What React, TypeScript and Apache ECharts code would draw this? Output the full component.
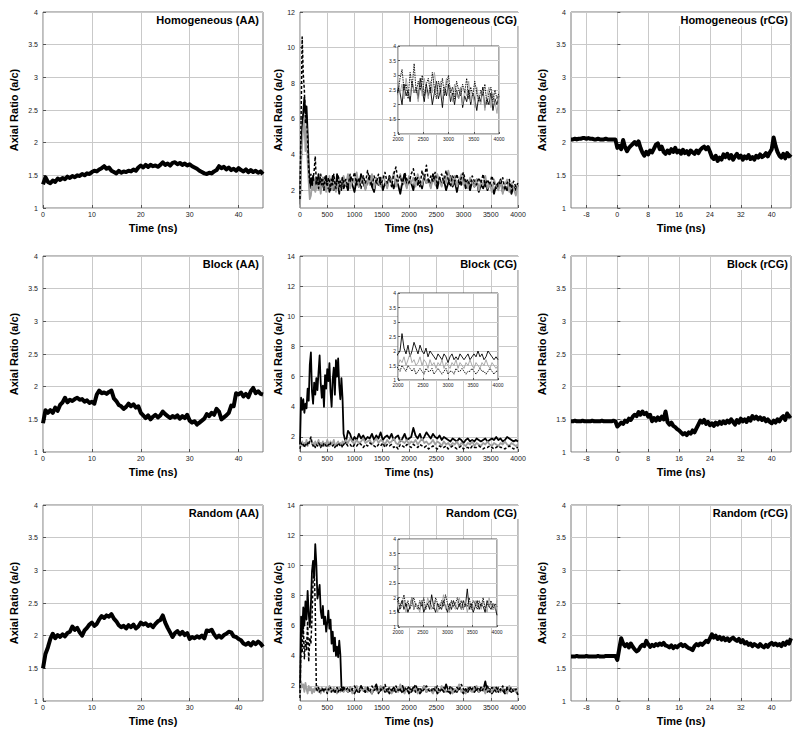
import { useEffect, useRef } from "react";
import * as echarts from "echarts";

// ---------- sampling ----------
const AA_START = 0;
const AA_STEP = 0.5;
const RCG_START = -12;
const RCG_STEP = 0.5;
const CG_EARLY_STEP = 20;
const CG_EARLY_END = 800;
const CG_LATE_STEP = 40;

// ---------- tick labels ----------
const aaXTicks = [0, 10, 20, 30, 40];
const rcgXTicks = [-8, 0, 8, 16, 24, 32, 40];
const ratioTicks = [1, 1.5, 2, 2.5, 3, 3.5, 4];
const cgXTicks = [0, 500, 1000, 1500, 2000, 2500, 3000, 3500, 4000];
const cgYTicks12 = [2, 4, 6, 8, 10, 12];
const cgYTicks14 = [2, 4, 6, 8, 10, 12, 14];
const insetXTicks = [2000, 2500, 3000, 3500, 4000];
const insetYTicks = [1, 1.5, 2, 2.5, 3, 3.5, 4];

// ---------- titles ----------
const titles = [
  "Homogeneous (AA)", "Homogeneous (CG)", "Homogeneous (rCG)",
  "Block (AA)", "Block (CG)", "Block (rCG)",
  "Random (AA)", "Random (CG)", "Random (rCG)",
];

// ---------- AA series (0..45 ns, 0.5 ns step) ----------
const homAA = [1.36, 1.47, 1.40, 1.38, 1.42, 1.40, 1.45, 1.43, 1.46, 1.44, 1.48, 1.46, 1.49, 1.47, 1.50, 1.49, 1.52, 1.50, 1.53, 1.52,
  1.55, 1.57, 1.56, 1.59, 1.61, 1.64, 1.60, 1.62, 1.57, 1.55, 1.53, 1.57, 1.54, 1.56, 1.55, 1.57, 1.56, 1.59, 1.57, 1.62,
  1.65, 1.62, 1.66, 1.63, 1.66, 1.64, 1.65, 1.63, 1.66, 1.70, 1.66, 1.68, 1.65, 1.69, 1.70, 1.67, 1.69, 1.66, 1.68, 1.65,
  1.67, 1.64, 1.62, 1.60, 1.57, 1.55, 1.53, 1.52, 1.54, 1.53, 1.56, 1.58, 1.64, 1.61, 1.63, 1.59, 1.62, 1.58, 1.60, 1.57,
  1.61, 1.58, 1.56, 1.59, 1.55, 1.58, 1.55, 1.57, 1.54, 1.56, 1.52];
const blockAA = [1.44, 1.64, 1.60, 1.64, 1.60, 1.68, 1.63, 1.72, 1.76, 1.83, 1.76, 1.80, 1.78, 1.81, 1.83, 1.80, 1.81, 1.77, 1.79, 1.75,
  1.77, 1.74, 1.88, 1.94, 1.90, 1.91, 1.89, 1.92, 1.94, 1.82, 1.78, 1.72, 1.70, 1.66, 1.69, 1.74, 1.70, 1.73, 1.68, 1.70,
  1.60, 1.56, 1.52, 1.56, 1.50, 1.54, 1.57, 1.53, 1.56, 1.62, 1.58, 1.55, 1.52, 1.55, 1.53, 1.56, 1.51, 1.55, 1.52, 1.57,
  1.48, 1.45, 1.47, 1.42, 1.45, 1.48, 1.51, 1.58, 1.55, 1.60, 1.57, 1.66, 1.62, 1.50, 1.53, 1.56, 1.60, 1.71, 1.70, 1.90,
  1.88, 1.91, 1.85, 1.89, 1.84, 1.93, 1.98, 1.90, 1.93, 1.89, 1.88];
const randAA = [1.50, 1.72, 1.82, 1.95, 2.03, 1.96, 2.01, 1.98, 2.02, 1.99, 2.04, 2.06, 2.14, 2.09, 2.12, 2.05, 2.00, 2.08, 2.12, 2.17,
  2.20, 2.15, 2.18, 2.25, 2.30, 2.27, 2.31, 2.29, 2.33, 2.26, 2.22, 2.16, 2.13, 2.15, 2.11, 2.16, 2.13, 2.17, 2.11, 2.14,
  2.20, 2.17, 2.19, 2.15, 2.17, 2.13, 2.18, 2.22, 2.24, 2.31, 2.20, 2.12, 2.05, 1.98, 2.04, 2.07, 2.02, 2.06, 2.01, 2.04,
  1.95, 1.98, 1.96, 1.99, 1.97, 2.00, 1.96, 2.08, 2.07, 2.09, 2.02, 1.97, 2.00, 1.97, 2.01, 2.03, 2.06, 2.05, 1.99, 1.98,
  1.95, 1.93, 1.88, 1.86, 1.89, 1.85, 1.90, 1.87, 1.91, 1.88, 1.83];

// ---------- rCG series (-12..45 ns, 0.5 ns step: pre = -12..-0.5, post = 0..45) ----------
const homRcgPre = [2.05, 2.05, 2.06, 2.05, 2.06, 2.06, 2.07, 2.07, 2.06, 2.07, 2.06, 2.06, 2.05, 2.05, 2.06, 2.05, 2.05, 2.05, 2.06, 2.05, 2.05, 2.05, 2.05, 2.05];
const homRcgPost = [1.92, 1.95, 1.90, 2.04, 1.93, 1.87, 1.92, 1.95, 1.98, 2.01, 1.97, 2.02, 1.92, 1.85, 1.80, 1.86, 1.82, 1.88, 1.85, 1.91,
  1.97, 1.99, 1.90, 1.94, 1.86, 1.83, 1.88, 1.84, 1.90, 1.86, 1.92, 1.85, 1.88, 1.83, 1.89, 1.84, 1.87, 1.82, 1.88, 1.85,
  1.83, 1.88, 1.84, 1.89, 1.92, 1.94, 1.90, 1.93, 1.86, 1.78, 1.75, 1.80, 1.72, 1.77, 1.74, 1.82, 1.78, 1.83, 1.76, 1.81,
  1.74, 1.79, 1.83, 1.77, 1.80, 1.74, 1.79, 1.76, 1.81, 1.75, 1.78, 1.74, 1.80, 1.77, 1.82, 1.78, 1.80, 1.84, 1.79, 1.85,
  1.90, 2.08, 1.95, 1.86, 1.80, 1.77, 1.83, 1.76, 1.84, 1.79, 1.82];
const blockRcgPre = [1.47, 1.47, 1.48, 1.47, 1.47, 1.47, 1.48, 1.47, 1.47, 1.47, 1.47, 1.48, 1.47, 1.47, 1.47, 1.47, 1.48, 1.47, 1.47, 1.47, 1.47, 1.47, 1.48, 1.47];
const blockRcgPost = [1.39, 1.42, 1.45, 1.43, 1.48, 1.46, 1.51, 1.49, 1.54, 1.57, 1.55, 1.61, 1.57, 1.62, 1.58, 1.60, 1.54, 1.57, 1.47, 1.52,
  1.48, 1.53, 1.49, 1.54, 1.50, 1.62, 1.46, 1.42, 1.45, 1.40, 1.38, 1.35, 1.33, 1.30, 1.27, 1.29, 1.26, 1.30, 1.28, 1.33,
  1.30, 1.36, 1.42, 1.48, 1.45, 1.49, 1.43, 1.46, 1.41, 1.44, 1.40, 1.45, 1.42, 1.46, 1.43, 1.47, 1.44, 1.48, 1.45, 1.50,
  1.46, 1.42, 1.49, 1.45, 1.51, 1.47, 1.50, 1.46, 1.52, 1.48, 1.55, 1.51, 1.54, 1.50, 1.53, 1.49, 1.52, 1.47, 1.50, 1.46,
  1.44, 1.48, 1.45, 1.50, 1.47, 1.52, 1.55, 1.49, 1.59, 1.54, 1.56];
const randRcgPre = [1.68, 1.68, 1.68, 1.69, 1.68, 1.68, 1.68, 1.68, 1.69, 1.68, 1.68, 1.68, 1.68, 1.68, 1.69, 1.68, 1.68, 1.68, 1.69, 1.69, 1.69, 1.69, 1.69, 1.69];
const randRcgPost = [1.63, 1.80, 1.96, 1.88, 1.84, 1.87, 1.82, 1.88, 1.83, 1.79, 1.76, 1.78, 1.83, 1.86, 1.84, 1.92, 1.87, 1.83, 1.86, 1.84,
  1.87, 1.85, 1.88, 1.86, 1.89, 1.85, 1.84, 1.82, 1.85, 1.81, 1.84, 1.82, 1.85, 1.87, 1.84, 1.86, 1.83, 1.81, 1.80, 1.78,
  1.84, 1.87, 1.85, 1.88, 1.86, 1.89, 1.92, 1.90, 1.96, 2.02, 1.97, 2.00, 1.95, 1.98, 1.94, 1.97, 1.93, 1.96, 1.92, 1.95,
  1.97, 1.94, 1.92, 1.95, 1.90, 1.93, 1.88, 1.90, 1.86, 1.88, 1.84, 1.87, 1.85, 1.83, 1.87, 1.84, 1.82, 1.86, 1.83, 1.87,
  1.89, 1.86, 1.88, 1.85, 1.87, 1.84, 1.89, 1.86, 1.91, 1.88, 1.96];

// ---------- CG series (early: 0..800 step 20, late: 840..4000 step 40) ----------
const homCgSolidEarly = [1.2, 4.3, 5.5, 6.4, 7.2, 6.3, 6.7, 5.2, 3.4, 2.1, 2.6, 2.2, 2.8, 2.4, 2.0, 2.6, 2.3, 2.9, 2.1, 2.5,
  2.2, 2.7, 2.0, 2.4, 2.8, 2.1, 2.5, 1.9, 2.6, 2.3, 2.8, 2.0, 2.4, 2.2, 2.9, 2.3, 1.8, 2.5, 2.2, 2.7, 2.1];
const homCgSolidLate = [2.4, 2.0, 2.7, 2.3, 1.9, 2.6, 2.2, 2.9, 2.4, 2.1, 2.5, 2.8, 2.2, 1.9, 2.6, 2.3, 2.7, 2.0, 2.4, 2.2,
  2.8, 2.5, 2.1, 2.6, 2.3, 1.8, 2.5, 2.9, 2.2, 2.6, 2.4, 2.0, 2.7, 2.3, 2.5, 2.1, 2.8, 2.4, 2.6, 2.2,
  2.9, 2.5, 2.1, 2.7, 2.3, 2.6, 2.0, 2.4, 2.8, 2.2, 2.5, 1.9, 2.6, 2.3, 2.7, 2.1, 2.4, 2.0, 2.5, 2.2,
  2.6, 1.9, 2.3, 2.1, 2.5, 2.0, 2.4, 2.2, 1.8, 2.3, 2.1, 2.6, 1.9, 2.2, 2.0, 2.4, 1.8, 2.2, 2.0, 2.3];
const homCgDashEarly = [1.5, 6.0, 10.6, 8.5, 7.6, 5.8, 6.2, 4.8, 3.1, 2.4, 2.9, 2.2, 2.6, 3.1, 3.9, 2.3, 2.7, 2.1, 2.5, 2.9,
  2.3, 2.6, 2.1, 2.8, 2.4, 2.2, 2.7, 2.5, 2.0, 2.6, 2.3, 2.9, 2.4, 2.1, 2.6, 2.8, 2.2, 2.5, 2.0, 2.7, 2.4];
const homCgDashLate = [2.6, 2.2, 2.9, 2.5, 3.0, 2.3, 2.7, 2.1, 2.8, 2.4, 3.1, 2.5, 2.2, 2.8, 2.4, 2.9, 2.3, 2.6, 3.0, 2.4,
  2.7, 2.2, 2.9, 3.3, 2.5, 2.8, 2.3, 3.0, 2.6, 2.4, 2.9, 3.2, 2.5, 2.7, 2.2, 3.1, 2.6, 3.4, 2.4, 2.8,
  2.5, 3.0, 2.3, 2.7, 2.9, 2.4, 3.1, 2.6, 2.2, 2.8, 2.5, 2.9, 2.3, 2.7, 3.0, 2.4, 2.6, 2.2, 2.8, 2.5,
  2.3, 2.7, 2.4, 2.9, 2.2, 2.6, 2.3, 2.8, 2.4, 2.1, 2.5, 2.3, 2.7, 2.0, 2.4, 2.6, 2.1, 2.5, 2.2, 2.4];
const homCgGrayEarly = [1.0, 3.5, 4.6, 5.5, 6.0, 4.2, 5.6, 3.6, 2.4, 1.5, 1.7, 2.3, 2.0, 2.5, 1.9, 2.2, 2.6, 2.0, 2.4, 1.8,
  2.3, 2.7, 2.1, 2.5, 1.9, 2.4, 2.2, 2.8, 2.1, 2.5, 2.0, 2.6, 2.3, 1.9, 2.4, 2.2, 2.7, 2.0, 2.5, 2.3, 2.8];
const homCgGrayLate = [2.3, 2.9, 2.1, 2.6, 2.4, 3.0, 2.2, 2.5, 2.8, 2.0, 2.6, 2.3, 2.9, 2.1, 2.7, 2.4, 2.2, 2.8, 2.5, 2.1,
  2.7, 2.4, 3.0, 2.2, 2.6, 2.9, 2.3, 2.5, 2.1, 2.8, 2.4, 2.7, 2.2, 2.9, 2.5, 2.3, 2.8, 2.4, 2.6, 2.1,
  2.7, 2.3, 2.9, 2.5, 2.2, 2.8, 2.4, 3.1, 2.6, 2.3, 2.8, 2.2, 2.5, 2.9, 2.3, 2.6, 2.1, 2.7, 2.4, 2.2,
  2.6, 2.0, 2.5, 2.3, 2.8, 2.1, 2.4, 1.9, 2.6, 2.2, 2.0, 2.5, 1.8, 2.3, 2.6, 1.9, 2.4, 2.1, 1.7, 2.3];

const blockCgSolidEarly = [1.5, 4.6, 3.8, 4.5, 3.6, 4.2, 3.9, 5.2, 4.4, 6.8, 7.6, 5.0, 4.2, 5.6, 4.8, 5.9, 5.1, 6.3, 7.4, 5.6,
  4.6, 5.4, 4.0, 6.1, 5.2, 6.5, 5.7, 6.9, 5.0, 4.0, 5.8, 6.6, 4.8, 7.1, 6.0, 7.2, 5.4, 4.5, 5.9, 4.6, 2.2];
const blockCgSolidLate = [1.6, 2.4, 2.2, 1.7, 2.0, 1.8, 2.2, 1.9, 2.1, 1.8, 2.0, 1.9, 2.2, 1.8, 2.1, 1.9, 2.3, 1.8, 2.0, 2.1,
  1.9, 2.2, 1.8, 2.0, 2.1, 1.7, 1.9, 2.2, 1.8, 1.9, 2.0, 2.6, 2.1, 1.9, 2.2, 1.8, 2.0, 2.3, 2.1, 1.9,
  2.2, 2.0, 1.9, 2.1, 1.8, 2.0, 1.9, 1.8, 1.7, 1.9, 1.8, 1.7, 1.9, 1.8, 1.6, 1.8, 1.9, 1.7, 1.8, 1.7,
  1.9, 1.8, 1.7, 1.8, 1.9, 1.7, 1.8, 1.9, 1.8, 2.0, 1.8, 1.9, 1.7, 1.8, 2.0, 1.9, 1.8, 1.7, 1.8, 1.7];
const blockCgDashEarly = [1.2, 1.6, 1.4, 1.5, 1.3, 1.5, 1.4, 1.6, 1.5, 1.8, 2.0, 1.6, 1.4, 1.5, 1.3, 1.5, 1.4, 1.6, 1.5, 1.3,
  1.5, 1.4, 1.6, 1.5, 1.4, 1.3, 1.5, 1.4, 1.6, 1.5, 1.4, 1.5, 1.3, 1.5, 1.4, 1.6, 1.5, 1.4, 1.5, 1.3, 1.5];
const blockCgDashLate = [1.6, 1.4, 1.5, 1.3, 1.5, 1.4, 1.6, 1.5, 1.3, 1.5, 1.4, 1.6, 1.5, 1.4, 1.3, 1.5, 1.4, 1.6, 1.3, 1.5,
  1.4, 1.5, 1.3, 1.4, 1.2, 1.5, 1.4, 1.3, 1.5, 1.4, 1.3, 1.5, 1.4, 1.3, 1.5, 1.4, 1.3, 1.4, 1.2, 1.3,
  1.4, 1.3, 1.2, 1.4, 1.3, 1.3, 1.4, 1.2, 1.3, 1.4, 1.3, 1.2, 1.3, 1.4, 1.2, 1.3, 1.3, 1.2, 1.4, 1.3,
  1.3, 1.4, 1.3, 1.2, 1.3, 1.3, 1.4, 1.3, 1.2, 1.3, 1.4, 1.3, 1.3, 1.2, 1.3, 1.4, 1.3, 1.2, 1.3, 1.3];
const blockCgGrayEarly = [1.3, 1.5, 1.7, 1.4, 1.6, 1.5, 1.8, 1.4, 1.6, 1.7, 1.9, 1.5, 1.6, 1.4, 1.7, 1.5, 1.6, 1.8, 1.4, 1.6,
  1.5, 1.7, 1.4, 1.6, 1.5, 1.8, 1.6, 1.4, 1.7, 1.5, 1.6, 1.8, 1.5, 1.4, 1.6, 1.7, 1.5, 1.6, 1.4, 1.7, 1.6];
const blockCgGrayLate = [1.8, 1.6, 1.9, 1.7, 1.5, 1.8, 1.6, 1.7, 1.9, 1.6, 1.7, 1.8, 1.5, 1.7, 1.9, 1.6, 1.8, 1.7, 1.5, 1.8,
  1.6, 1.7, 1.9, 1.6, 1.5, 1.8, 1.7, 1.6, 1.8, 1.5, 1.7, 1.6, 1.8, 1.5, 1.7, 1.9, 1.6, 1.7, 1.5, 1.6,
  1.8, 1.5, 1.7, 1.6, 1.4, 1.7, 1.5, 1.6, 1.4, 1.6, 1.5, 1.7, 1.4, 1.6, 1.5, 1.4, 1.6, 1.5, 1.7, 1.4,
  1.6, 1.5, 1.4, 1.6, 1.5, 1.7, 1.5, 1.4, 1.6, 1.5, 1.4, 1.6, 1.5, 1.7, 1.5, 1.4, 1.6, 1.5, 1.4, 1.5];

const randCgSolidEarly = [1.5, 6.6, 5.5, 7.2, 6.0, 7.6, 6.4, 8.3, 6.8, 5.9, 7.4, 9.6, 10.3, 9.2, 11.4, 10.1, 7.8, 8.2, 8.7, 7.0,
  6.5, 7.3, 6.1, 6.6, 5.6, 6.2, 7.0, 5.8, 6.4, 4.8, 5.6, 4.3, 5.2, 4.0, 4.6, 3.9, 5.0, 4.1, 2.0, 1.7, 1.9];
const randCgSolidLate = [1.8, 1.6, 1.9, 1.7, 1.5, 1.8, 1.6, 2.0, 1.7, 1.6, 1.9, 1.7, 1.5, 1.8, 2.1, 1.6, 1.7, 1.9, 1.6, 1.8,
  1.5, 1.7, 1.9, 1.6, 1.8, 1.7, 2.0, 1.6, 1.8, 1.5, 1.7, 1.9, 1.6, 1.8, 1.5, 1.7, 2.0, 1.6, 1.8, 1.7,
  1.6, 1.9, 1.5, 1.7, 1.8, 1.6, 2.1, 1.7, 1.5, 1.8, 1.7, 1.6, 1.9, 1.7, 1.5, 1.8, 1.6, 1.9, 1.7, 1.6,
  1.8, 1.6, 1.9, 1.7, 2.3, 1.6, 1.8, 1.5, 1.7, 1.9, 1.6, 1.8, 1.7, 1.5, 1.9, 1.7, 1.6, 1.8, 1.7, 1.4];
const randCgDashEarly = [1.2, 5.5, 4.2, 6.1, 3.8, 5.0, 4.4, 6.3, 3.6, 5.2, 4.8, 6.5, 9.0, 9.8, 7.2, 1.8, 1.7, 1.9, 1.6, 1.8,
  1.7, 1.9, 1.6, 1.8, 1.7, 1.5, 1.8, 1.7, 1.9, 1.6, 1.8, 1.7, 1.5, 1.8, 1.9, 1.6, 1.8, 1.7, 1.9, 1.6, 1.8];
const randCgDashLate = [1.7, 1.9, 1.6, 1.8, 2.0, 1.7, 1.5, 1.9, 1.8, 1.6, 1.8, 1.6, 2.0, 1.7, 1.9, 1.5, 1.8, 1.7, 2.1, 1.6,
  1.9, 1.7, 1.6, 2.0, 1.7, 1.8, 1.5, 1.9, 1.7, 2.0, 1.6, 1.8, 2.1, 1.7, 1.9, 1.6, 1.8, 2.0, 1.7, 1.6,
  1.9, 1.7, 2.0, 1.6, 1.8, 1.9, 1.7, 1.6, 2.0, 1.8, 1.6, 1.9, 1.7, 2.1, 1.8, 1.6, 1.9, 1.7, 1.8, 2.0,
  1.7, 1.9, 1.6, 1.8, 1.7, 2.0, 1.6, 1.9, 1.8, 1.6, 1.9, 1.7, 2.0, 1.6, 1.8, 1.7, 1.9, 1.6, 1.8, 1.7];
const randCgGrayEarly = [1.4, 2.3, 1.9, 2.1, 1.6, 2.2, 1.8, 1.5, 2.0, 1.7, 1.9, 1.5, 1.8, 1.6, 1.9, 1.7, 2.0, 1.6, 1.8, 1.5,
  1.9, 1.7, 1.6, 1.8, 1.9, 1.6, 1.7, 2.0, 1.6, 1.8, 1.7, 1.9, 1.6, 1.8, 1.5, 1.7, 1.9, 1.6, 1.8, 1.7, 1.6];
const randCgGrayLate = [1.8, 1.6, 1.9, 1.5, 1.7, 2.0, 1.6, 1.8, 1.7, 1.9, 1.6, 1.8, 1.5, 1.9, 1.7, 1.6, 2.0, 1.7, 1.8, 1.6,
  1.9, 1.5, 1.7, 1.8, 1.6, 2.1, 1.7, 1.5, 1.8, 1.9, 1.6, 1.7, 1.9, 1.5, 1.8, 1.7, 2.0, 1.6, 1.8, 1.7,
  1.5, 1.9, 1.7, 1.6, 2.0, 1.8, 1.6, 1.7, 1.9, 1.5, 1.8, 1.7, 2.1, 1.6, 1.8, 1.5, 1.9, 1.7, 1.6, 1.8,
  2.0, 1.6, 1.7, 1.9, 1.5, 1.8, 1.7, 1.6, 1.9, 1.7, 1.8, 1.6, 1.9, 1.7, 1.5, 2.0, 1.7, 1.8, 1.6, 1.9];

// ---------- helpers ----------
const FONT = "'Liberation Sans', Arial, Helvetica, sans-serif";
const BLACK = "#000000";
const GRAY = "#a0a0a0";

const toPairs = (start: number, step: number, vals: number[]) => vals.map((v, i) => [start + i * step, v]);
const rcgPairs = (pre: number[], post: number[]) => toPairs(RCG_START, RCG_STEP, pre.concat(post));
const cgPairs = (early: number[], late: number[]) =>
  early.map((v, i) => [i * CG_EARLY_STEP, v]).concat(late.map((v, i) => [CG_EARLY_END + (i + 1) * CG_LATE_STEP, v]));

type Line = { data: number[][]; color: string; width: number; dash?: number[] };
type Panel = {
  left: number; top: number; width: number; height: number;
  xMin: number; xMax: number; xTicks: number[];
  yMin: number; yMax: number; yTicks: number[];
  yNameGap: number; title: string; titleRight: number;
  lines: Line[];
  inset?: { left: number; top: number; width: number; height: number };
};

const COL_LEFT = [43, 300, 571];
const COL_WIDTH = [220, 218, 220];
const ROW_TOP = [12, 256, 505];
const ROW_H = 196;
const TITLE_RIGHT = [539, 281, 10];
const INSETS = [
  { left: 398, top: 46, width: 101, height: 88 },
  { left: 398, top: 293, width: 100, height: 87 },
  { left: 398, top: 539, width: 99, height: 88 },
];

function buildPanels(): Panel[] {
  const aa = [homAA, blockAA, randAA];
  const rcg = [[homRcgPre, homRcgPost], [blockRcgPre, blockRcgPost], [randRcgPre, randRcgPost]];
  const cg = [
    [[homCgSolidEarly, homCgSolidLate], [homCgGrayEarly, homCgGrayLate], [homCgDashEarly, homCgDashLate]],
    [[blockCgSolidEarly, blockCgSolidLate], [blockCgGrayEarly, blockCgGrayLate], [blockCgDashEarly, blockCgDashLate]],
    [[randCgSolidEarly, randCgSolidLate], [randCgGrayEarly, randCgGrayLate], [randCgDashEarly, randCgDashLate]],
  ];
  const panels: Panel[] = [];
  for (let r = 0; r < 3; r++) {
    const base = { top: ROW_TOP[r], height: ROW_H };
    panels.push({
      ...base, left: COL_LEFT[0], width: COL_WIDTH[0],
      xMin: 0, xMax: 45, xTicks: aaXTicks, yMin: 1, yMax: 4, yTicks: ratioTicks,
      yNameGap: 24, title: titles[r * 3], titleRight: TITLE_RIGHT[0],
      lines: [{ data: toPairs(AA_START, AA_STEP, aa[r]), color: BLACK, width: 4 }],
    });
    const c = cg[r];
    panels.push({
      ...base, left: COL_LEFT[1], width: COL_WIDTH[1],
      xMin: 0, xMax: 4000, xTicks: cgXTicks, yMin: 1, yMax: r === 0 ? 12 : 14, yTicks: r === 0 ? cgYTicks12 : cgYTicks14,
      yNameGap: 16, title: titles[r * 3 + 1], titleRight: TITLE_RIGHT[1],
      lines: [
        { data: cgPairs(c[0][0], c[0][1]), color: BLACK, width: 1.8 },
        { data: cgPairs(c[1][0], c[1][1]), color: GRAY, width: 1.8 },
        { data: cgPairs(c[2][0], c[2][1]), color: BLACK, width: 1.5, dash: [3, 2] },
      ],
      inset: INSETS[r],
    });
    panels.push({
      ...base, left: COL_LEFT[2], width: COL_WIDTH[2],
      xMin: -12, xMax: 45, xTicks: rcgXTicks, yMin: 1, yMax: 4, yTicks: ratioTicks,
      yNameGap: 24, title: titles[r * 3 + 2], titleRight: TITLE_RIGHT[2],
      lines: [{ data: rcgPairs(rcg[r][0], rcg[r][1]), color: BLACK, width: 4 }],
    });
  }
  return panels;
}

const plainNumber = (v: number) => String(v);

function buildOption() {
  const grid: any[] = [];
  const xAxis: any[] = [];
  const yAxis: any[] = [];
  const series: any[] = [];
  const title: any[] = [];
  const panels = buildPanels();

  const axisCommon = (ticks: number[], fontSize: number, margin: number, tickLen: number, z: number) => ({
    type: "value",
    z,
    axisLine: { show: false },
    axisTick: { show: true, inside: true, length: tickLen, customValues: ticks, lineStyle: { color: "#555", width: 1 } },
    axisLabel: { customValues: ticks, fontSize, margin, color: "#1a1a1a", fontFamily: FONT, hideOverlap: false, formatter: plainNumber },
    splitLine: { show: true, lineStyle: { color: "#c9c9c9", width: 1 } },
  });

  panels.forEach((p) => {
    const gi = grid.length;
    grid.push({
      left: p.left, top: p.top, width: p.width, height: p.height,
      show: true, borderColor: "#7a7a7a", borderWidth: 1, backgroundColor: "transparent",
      containLabel: false, outerBoundsMode: "none", z: 0,
    });
    xAxis.push({
      ...axisCommon(p.xTicks, 7, 3, 3, 1), gridIndex: gi, min: p.xMin, max: p.xMax,
      name: "Time (ns)", nameLocation: "middle", nameGap: 14,
      nameTextStyle: { fontSize: 11, fontWeight: "bold", color: "#000", fontFamily: FONT },
    });
    yAxis.push({
      ...axisCommon(p.yTicks, 7, 5, 3, 1), gridIndex: gi, min: p.yMin, max: p.yMax,
      name: "Axial Ratio (a/c)", nameLocation: "middle", nameGap: p.yNameGap,
      nameTextStyle: { fontSize: 11, fontWeight: "bold", color: "#000", fontFamily: FONT },
    });
    p.lines.forEach((l) => {
      series.push({
        type: "line", xAxisIndex: gi, yAxisIndex: gi, data: l.data,
        showSymbol: false, symbol: "none", silent: true, clip: true, z: 2,
        lineStyle: { color: l.color, width: l.width, type: l.dash ? l.dash : "solid", join: "round" },
      });
    });
    title.push({
      text: p.title, right: p.titleRight, top: p.top + 1,
      textStyle: { fontSize: 11, fontWeight: "bold", color: "#000", fontFamily: FONT },
      backgroundColor: "#ffffff", padding: [1, 2, 1, 2], z: 8,
    });
    if (p.inset) {
      const ii = grid.length;
      const ins = p.inset;
      grid.push({
        left: ins.left, top: ins.top, width: ins.width, height: ins.height,
        show: true, borderColor: "#555", borderWidth: 1, backgroundColor: "#ffffff",
        containLabel: false, outerBoundsMode: "none", z: 10,
      });
      xAxis.push({ ...axisCommon(insetXTicks, 5, 2, 2, 11), gridIndex: ii, min: 2000, max: 4000 });
      yAxis.push({ ...axisCommon(insetYTicks, 5, 2, 2, 11), gridIndex: ii, min: 1, max: 4 });
      p.lines.forEach((l) => {
        series.push({
          type: "line", xAxisIndex: ii, yAxisIndex: ii, data: l.data,
          showSymbol: false, symbol: "none", silent: true, clip: true, z: 12,
          lineStyle: { color: l.color, width: 0.9, type: l.dash ? [1.5, 1] : "solid", join: "round" },
        });
      });
    }
  });

  return {
    animation: false,
    backgroundColor: "#ffffff",
    textStyle: { fontFamily: FONT },
    title, grid, xAxis, yAxis, series,
  };
}

export default function App() {
  const ref = useRef<HTMLDivElement>(null);
  useEffect(() => {
    if (!ref.current) return;
    const chart = echarts.init(ref.current, undefined, { renderer: "svg" });
    chart.setOption(buildOption() as any);
    return () => chart.dispose();
  }, []);
  return (
    <div
      ref={ref}
      style={{ position: "absolute", left: 0, top: 0, width: 800, height: 736, background: "#fff" }}
    />
  );
}
